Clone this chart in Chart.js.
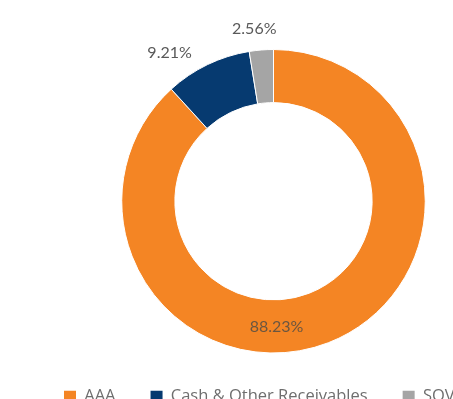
<!DOCTYPE html>
<html>
<head>
<meta charset="utf-8">
<script src="https://cdn.jsdelivr.net/npm/chart.js@4.4.1/dist/chart.umd.min.js"></script>
<style>
  html, body { margin: 0; padding: 0; background: #fff; overflow: hidden; }
  #wrap { position: relative; width: 518px; height: 415px; }
</style>
</head>
<body>
<div id="wrap"><canvas id="chart"></canvas></div>
<script>
// holdings by rating
const categories = ['AAA', 'Cash & Other Receivables', 'SOV'];
const shares = [88.23, 9.21, 2.56];
const sliceColors = ['#F48524', '#063A70', '#A5A5A5'];

// draws the percentage next to / inside each slice
const sliceLabels = {
  id: 'sliceLabels',
  afterDatasetsDraw(chart) {
    const ctx = chart.ctx;
    const meta = chart.getDatasetMeta(0);
    const biggest = shares.indexOf(Math.max(...shares));
    ctx.save();
    ctx.font = '16px Lato';
    meta.data.forEach((arc, i) => {
      const { x, y, startAngle, endAngle, innerRadius, outerRadius } = arc.getProps(['x', 'y', 'startAngle', 'endAngle', 'innerRadius', 'outerRadius'], true);
      const text = shares[i].toFixed(2) + '%';
      if (i === biggest) {
        // big slice: inside the ring, at the bottom
        let a = (startAngle + endAngle) / 2;
        if (startAngle <= Math.PI / 2 && endAngle >= Math.PI / 2) a = Math.PI / 2;
        const r = (innerRadius + outerRadius) / 2;
        ctx.fillStyle = '#6b5640';
        ctx.textAlign = 'center';
        ctx.textBaseline = 'middle';
        ctx.fillText(text, x + 3 + r * Math.cos(a), y + r * Math.sin(a));
        return;
      }
      const a = (startAngle + endAngle) / 2;
      const r = outerRadius + 13;
      const px = x + r * Math.cos(a);
      const py = y + r * Math.sin(a);
      ctx.fillStyle = '#595959';
      if (Math.abs(Math.cos(a)) < 0.25) {
        ctx.textAlign = 'center';
        ctx.textBaseline = 'bottom';
        ctx.fillText(text, px - 6, py);
      } else {
        const left = Math.cos(a) < 0;
        ctx.textAlign = left ? 'right' : 'left';
        ctx.textBaseline = 'middle';
        ctx.fillText(text, px + (left ? -10 : 10), py);
      }
    });
    ctx.restore();
  }
};

new Chart(document.getElementById('chart'), {
  type: 'doughnut',
  data: {
    labels: categories,
    datasets: [{
      data: shares,
      backgroundColor: sliceColors,
      borderColor: '#ffffff',
      borderWidth: 1
    }]
  },
  options: {
    responsive: true,
    maintainAspectRatio: false,
    animation: false,
    cutout: '65%',
    layout: { padding: { left: 29, right: 0, top: 49, bottom: 0 } },
    plugins: {
      tooltip: { enabled: false },
      legend: {
        position: 'bottom',
        align: 'start',
        labels: {
          boxWidth: 12,
          boxHeight: 12,
          padding: 35,
          color: '#6e6e6e',
          font: { family: 'Open Sans', size: 16.5 },
          generateLabels(chart) {
            // plain filled squares, no white outline
            const items = Chart.controllers.doughnut.overrides.plugins.legend.labels.generateLabels(chart);
            items.forEach(it => { it.lineWidth = 0; });
            return items;
          }
        }
      }
    }
  },
  plugins: [sliceLabels]
});
</script>
</body>
</html>
